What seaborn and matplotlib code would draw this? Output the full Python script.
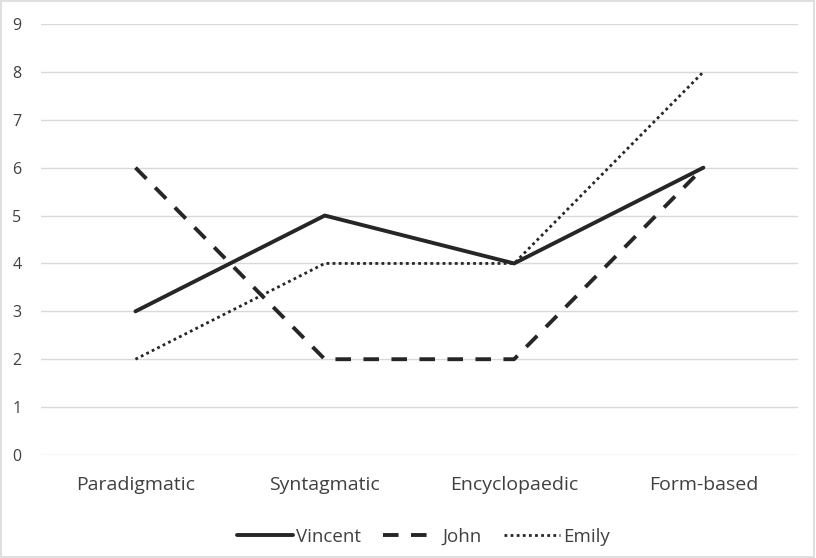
import pandas as pd
import matplotlib.pyplot as plt
import seaborn as sns

categorias = ['Paradigmatic', 'Syntagmatic', 'Encyclopaedic', 'Form-based']
vincent = [3, 5, 4, 6]
john = [6, 2, 2, 6]
emily = [2, 4, 4, 8]

dados = pd.DataFrame({
    'categoria': categorias * 3,
    'valor': vincent + john + emily,
    'pessoa': ['Vincent'] * 4 + ['John'] * 4 + ['Emily'] * 4,
})

sns.set_style('white')
plt.rcParams['font.family'] = ['Open Sans', 'DejaVu Sans']

fig = plt.figure(figsize=(8.16, 5.58), dpi=100)
ax = fig.add_axes([0.050, 0.1846, 0.928, 0.7724])

estilos = {'Vincent': dict(ls='-', lw=2.8),
           'John': dict(ls=(0, (4, 3.2)), lw=2.8),
           'Emily': dict(ls=(0, (1, 1.2)), lw=2.0)}

for pessoa in ['Vincent', 'John', 'Emily']:
    sub = dados[dados['pessoa'] == pessoa]
    sns.lineplot(data=sub, x='categoria', y='valor', ax=ax, color='#262626',
                 label=pessoa, sort=False, **estilos[pessoa])

ax.set_xlim(-0.5, 3.5)
ax.set_ylim(0, 9)
ax.set_yticks(range(10))
ax.yaxis.grid(True, color='#d9d9d9', lw=1)
ax.xaxis.grid(False)
for s in ax.spines.values():
    s.set_visible(False)
ax.tick_params(axis='both', length=0, colors='#404040')
ax.tick_params(axis='y', labelsize=11.5, pad=14)
ax.tick_params(axis='x', labelsize=14, pad=15)
ax.set_xlabel('')
ax.set_ylabel('')

leg = ax.legend(loc='upper center', bbox_to_anchor=(0.505, -0.13), ncol=3,
                frameon=False, fontsize=13.5, handlelength=3.0, handletextpad=0.15,
                columnspacing=1.2)
for t in leg.get_texts():
    t.set_color('#404040')

fig.patches.append(plt.Rectangle((0.001, 0.001), 0.997, 0.997, transform=fig.transFigure,
                                 fill=False, edgecolor='#d9d9d9', lw=1.2))

fig.savefig('out.png', dpi=100)
